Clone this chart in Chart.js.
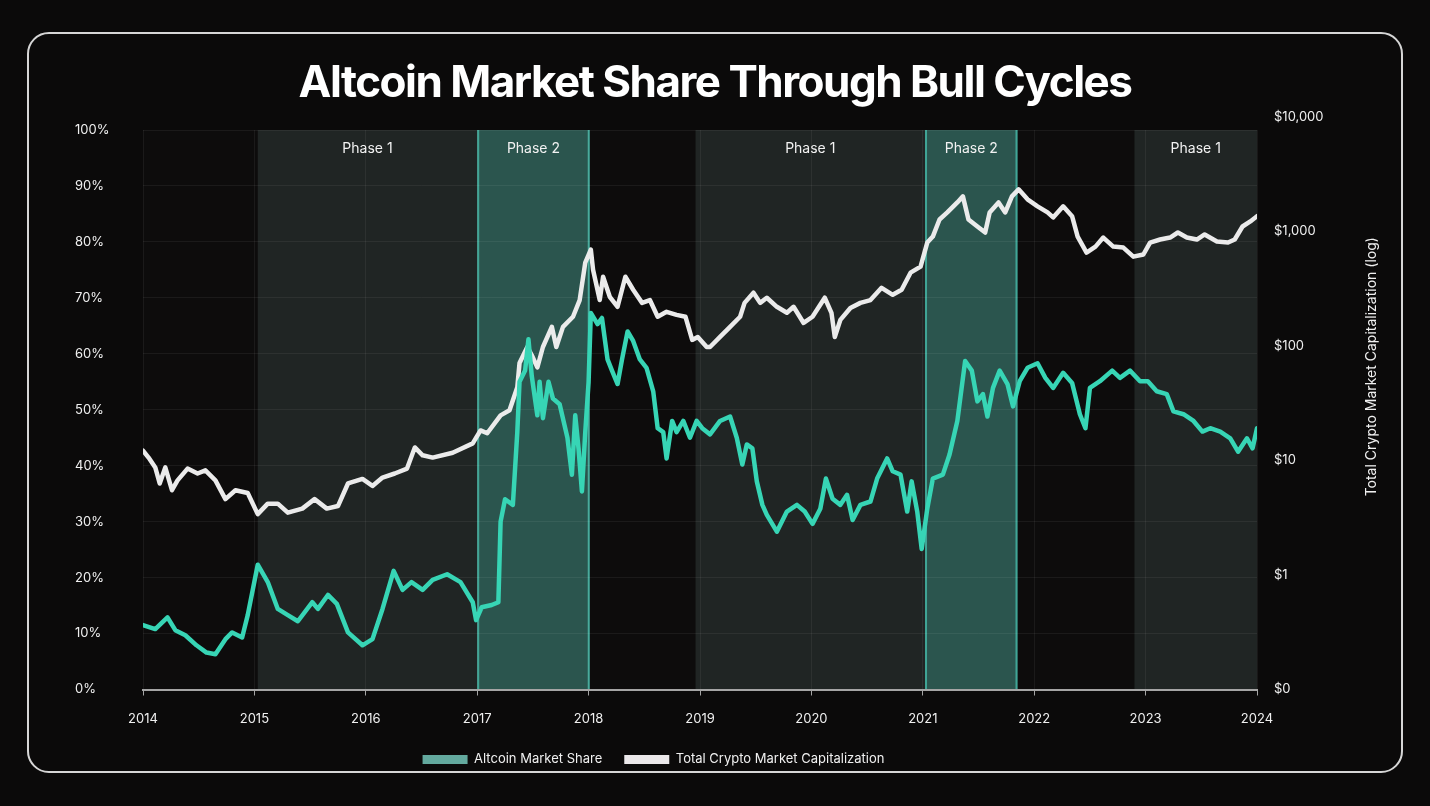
<!DOCTYPE html>
<html>
<head>
<meta charset="utf-8">
<script src="https://cdn.jsdelivr.net/npm/chart.js@4.4.1/dist/chart.umd.min.js"></script>
<style>
  html, body { margin: 0; padding: 0; background: #0b0a0a; }
  body { width: 1430px; height: 806px; position: relative; overflow: hidden; }
  .card { position: absolute; left: 27px; top: 32px; width: 1372px; height: 737px; border: 2px solid #d6d6d6; border-radius: 22px; }
  canvas { position: absolute; left: 0; top: 0; }
</style>
</head>
<body>
<div class="card"></div>
<canvas id="chart" width="1430" height="806"></canvas>
<script>
const chartTitle = "Altcoin Market Share Through Bull Cycles";
const capAxisTitle = "Total Crypto Market Capitalization (log)";

// altcoin share of total market cap, % (left axis)
const altYears = [
  2014.00, 2014.11, 2014.22, 2014.29, 2014.38, 2014.48, 2014.57, 2014.65, 2014.74, 2014.80,
  2014.89, 2014.94, 2015.03, 2015.12, 2015.21, 2015.30, 2015.39, 2015.52, 2015.57, 2015.66,
  2015.74, 2015.84, 2015.97, 2016.06, 2016.15, 2016.25, 2016.33, 2016.41, 2016.51, 2016.60,
  2016.73, 2016.85, 2016.96, 2016.99, 2017.04, 2017.13, 2017.19, 2017.21, 2017.25, 2017.32,
  2017.36, 2017.38, 2017.43, 2017.46, 2017.49, 2017.54, 2017.56, 2017.59, 2017.64, 2017.68,
  2017.74, 2017.81, 2017.85, 2017.88, 2017.91, 2017.94, 2017.97, 2018.00, 2018.02, 2018.08,
  2018.12, 2018.17, 2018.21, 2018.26, 2018.30, 2018.35, 2018.40, 2018.46, 2018.52, 2018.58,
  2018.62, 2018.67, 2018.70, 2018.75, 2018.79, 2018.85, 2018.91, 2018.97, 2019.02, 2019.09,
  2019.18, 2019.27, 2019.33, 2019.38, 2019.42, 2019.47, 2019.51, 2019.56, 2019.60, 2019.69,
  2019.78, 2019.87, 2019.94, 2020.01, 2020.08, 2020.13, 2020.19, 2020.26, 2020.32, 2020.37,
  2020.44, 2020.53, 2020.59, 2020.68, 2020.73, 2020.80, 2020.86, 2020.90, 2020.95, 2020.99,
  2021.04, 2021.09, 2021.18, 2021.24, 2021.31, 2021.38, 2021.44, 2021.49, 2021.54, 2021.58,
  2021.63, 2021.69, 2021.76, 2021.81, 2021.87, 2021.94, 2022.03, 2022.10, 2022.17, 2022.26,
  2022.34, 2022.41, 2022.46, 2022.50, 2022.59, 2022.70, 2022.77, 2022.86, 2022.95, 2023.02,
  2023.10, 2023.19, 2023.25, 2023.34, 2023.43, 2023.51, 2023.58, 2023.67, 2023.76, 2023.83,
  2023.91, 2023.96, 2024.00, 2024.03
];
const altShare = [
  11.5, 10.8, 12.9, 10.6, 9.7, 7.9, 6.6, 6.3, 9.0, 10.2,
  9.3, 13.3, 22.3, 19.2, 14.4, 13.3, 12.2, 15.6, 14.4, 16.9,
  15.3, 10.2, 7.9, 9.0, 14.4, 21.2, 17.8, 19.2, 17.8, 19.6,
  20.6, 19.2, 15.6, 12.4, 14.7, 15.1, 15.6, 30.0, 34.0, 33.0,
  46.0, 55.0, 57.0, 62.6, 56.0, 49.0, 55.0, 48.5, 55.0, 52.0,
  51.0, 45.0, 38.4, 49.0, 43.0, 35.4, 46.0, 55.0, 67.3, 65.3,
  66.4, 59.0, 57.0, 54.6, 59.0, 64.0, 62.3, 59.0, 57.5, 53.3,
  46.7, 46.0, 41.3, 48.0, 46.0, 48.0, 45.0, 48.0, 46.7, 45.6,
  48.0, 48.8, 45.0, 40.2, 43.8, 43.1, 37.2, 33.0, 31.2, 28.2,
  31.8, 33.0, 31.8, 29.6, 32.3, 37.7, 34.1, 33.0, 34.8, 30.3,
  33.0, 33.6, 37.7, 41.3, 39.0, 38.4, 31.8, 37.2, 31.8, 25.1,
  32.3, 37.7, 38.4, 42.0, 48.0, 58.7, 57.0, 51.5, 52.8, 48.8,
  53.9, 57.0, 54.6, 50.6, 55.1, 57.5, 58.3, 55.7, 53.9, 56.6,
  54.8, 49.2, 46.7, 53.9, 55.1, 57.0, 55.7, 57.0, 55.1, 55.1,
  53.3, 52.8, 49.7, 49.2, 48.0, 46.1, 46.7, 46.1, 44.9, 42.5,
  44.9, 43.1, 46.7, 43.1
];

// total crypto market cap, $B (right log axis)
const capYears = [
  2014.00, 2014.05, 2014.11, 2014.15, 2014.20, 2014.26, 2014.31, 2014.40, 2014.49, 2014.56,
  2014.65, 2014.74, 2014.83, 2014.94, 2015.03, 2015.12, 2015.21, 2015.30, 2015.43, 2015.54,
  2015.65, 2015.75, 2015.84, 2015.97, 2016.06, 2016.15, 2016.26, 2016.37, 2016.44, 2016.51,
  2016.60, 2016.78, 2016.96, 2017.03, 2017.09, 2017.21, 2017.29, 2017.36, 2017.38, 2017.45,
  2017.49, 2017.54, 2017.59, 2017.67, 2017.71, 2017.77, 2017.86, 2017.92, 2017.97, 2018.02,
  2018.04, 2018.10, 2018.13, 2018.19, 2018.26, 2018.33, 2018.40, 2018.48, 2018.55, 2018.62,
  2018.70, 2018.79, 2018.87, 2018.93, 2018.98, 2019.06, 2019.09, 2019.18, 2019.27, 2019.36,
  2019.40, 2019.48, 2019.54, 2019.60, 2019.69, 2019.78, 2019.84, 2019.93, 2020.01, 2020.12,
  2020.18, 2020.21, 2020.26, 2020.35, 2020.44, 2020.53, 2020.63, 2020.73, 2020.81, 2020.89,
  2020.98, 2021.04, 2021.09, 2021.15, 2021.22, 2021.31, 2021.36, 2021.41, 2021.49, 2021.56,
  2021.60, 2021.68, 2021.74, 2021.80, 2021.86, 2021.94, 2022.03, 2022.12, 2022.17, 2022.26,
  2022.34, 2022.39, 2022.47, 2022.55, 2022.62, 2022.71, 2022.80, 2022.89, 2022.98, 2023.04,
  2023.13, 2023.22, 2023.29, 2023.37, 2023.46, 2023.53, 2023.64, 2023.74, 2023.80, 2023.87,
  2023.94, 2024.00, 2024.03
];
const capValue = [
  12.2, 10.6, 8.7, 6.3, 8.7, 5.5, 6.7, 8.5, 7.7, 8.2,
  6.7, 4.6, 5.5, 5.2, 3.4, 4.2, 4.2, 3.5, 3.8, 4.6,
  3.8, 4.0, 6.3, 6.9, 6.0, 7.1, 7.7, 8.5, 13.0, 11.1,
  10.6, 11.7, 14.1, 18.3, 17.3, 24.8, 27.5, 43.7, 71, 98,
  83, 65, 98, 147, 98, 147, 180, 252, 535, 695,
  464, 252, 403, 269, 220, 403, 310, 238, 252, 180,
  199, 187, 180, 113, 120, 98, 98, 120, 147, 180,
  238, 292, 238, 264, 220, 195, 220, 159, 180, 264,
  195, 120, 169, 215, 238, 252, 322, 280, 310, 437,
  493, 801, 903, 1274, 1468, 1795, 2027, 1274, 1106, 980,
  1468, 1795, 1468, 2027, 2335, 1910, 1660, 1468, 1327, 1660,
  1360, 903, 654, 738, 885, 738, 724, 603, 630, 801,
  851, 885, 980, 885, 851, 942, 818, 801, 851, 1106,
  1225, 1360, 1250
];
const capTicks = [0.1, 1, 10, 100, 1000, 10000];

// shaded cycle phases
const phaseStart = [2015.03, 2017.00, 2018.96, 2021.02, 2022.90];
const phaseEnd   = [2017.00, 2018.01, 2021.02, 2021.85, 2024.00];
const phaseLabel = ["Phase 1", "Phase 2", "Phase 1", "Phase 2", "Phase 1"];

const TEXT = "#f0f0f0";
const tickFont = { family: "Inter, sans-serif", size: 13 };
const legendSwatch = ["#63a99e", "#ebe8ea"];

const phaseBands = {
  id: "phaseBands",
  beforeDraw(chart) {
    const { ctx, chartArea: a, scales: { x } } = chart;
    ctx.save();
    ctx.fillStyle = "#0d0c0c";
    ctx.fillRect(a.left, a.top, a.width, a.height);
    phaseStart.forEach((s, i) => {
      const x0 = x.getPixelForValue(s);
      const x1 = x.getPixelForValue(phaseEnd[i]);
      const two = phaseLabel[i] === "Phase 2";
      ctx.fillStyle = two ? "#2b554e" : "#202524";
      ctx.fillRect(x0, a.top, x1 - x0, a.height);
      if (two) {
        ctx.strokeStyle = "#40a596";
        ctx.lineWidth = 2;
        ctx.beginPath();
        ctx.moveTo(x0 + 1, a.top); ctx.lineTo(x0 + 1, a.bottom);
        ctx.moveTo(x1 - 1, a.top); ctx.lineTo(x1 - 1, a.bottom);
        ctx.stroke();
      }
      ctx.fillStyle = "#f2f2f2";
      ctx.font = "14px Inter, sans-serif";
      ctx.textAlign = "center";
      ctx.textBaseline = "middle";
      ctx.fillText(phaseLabel[i], (x0 + x1) / 2, a.top + 19);
    });
    ctx.restore();
  },
  afterLayout(chart) {
    // legend sits left of centre in the original
    chart.legend.left -= 74;
    chart.legend.right -= 74;
  },
  afterDraw(chart) {
    const { ctx, chartArea: a } = chart;
    ctx.save();
    ctx.fillStyle = "#ffffff";
    ctx.font = "700 44px Inter, sans-serif";
    ctx.letterSpacing = "-1.5px";
    ctx.textAlign = "center";
    ctx.textBaseline = "middle";
    ctx.fillText(chartTitle, chart.width / 2, 84);
    ctx.letterSpacing = "0px";
    // right axis title reads bottom-to-top
    ctx.font = "14px Inter, sans-serif";
    ctx.fillStyle = TEXT;
    ctx.translate(a.right + 115, (a.top + a.bottom) / 2 - 43);
    ctx.rotate(-Math.PI / 2);
    ctx.fillText(capAxisTitle, 0, 0);
    ctx.restore();
  },
};

new Chart(document.getElementById("chart"), {
  type: "line",
  data: {
    datasets: [
      {
        label: "Altcoin Market Share",
        data: altYears.map((x, i) => ({ x, y: altShare[i] })),
        yAxisID: "yShare",
        borderColor: "#37d5b5",
        borderWidth: 4.5,
        pointRadius: 0,
        tension: 0,
        borderJoinStyle: "round",
        borderCapStyle: "round",
      },
      {
        label: "Total Crypto Market Capitalization",
        data: capYears.map((x, i) => ({ x, y: capValue[i] })),
        yAxisID: "yCap",
        borderColor: "#ebebeb",
        borderWidth: 4.5,
        pointRadius: 0,
        tension: 0,
        borderJoinStyle: "round",
        borderCapStyle: "round",
      },
    ],
  },
  options: {
    responsive: false,
    animation: false,
    devicePixelRatio: 1,
    layout: { padding: { top: 130, left: 75, right: 50, bottom: 30 } },
    plugins: {
      title: { display: false },
      tooltip: { enabled: false },
      legend: {
        position: "bottom",
        labels: {
          color: TEXT,
          font: { family: "Inter, sans-serif", size: 13 },
          boxWidth: 45,
          boxHeight: 9,
          padding: 22,
          generateLabels: (chart) =>
            Chart.defaults.plugins.legend.labels.generateLabels(chart).map((l, i) => ({
              ...l, fillStyle: legendSwatch[i], strokeStyle: legendSwatch[i], lineWidth: 0,
            })),
        },
      },
    },
    scales: {
      x: {
        type: "linear",
        min: 2014,
        max: 2024,
        ticks: { stepSize: 1, callback: (v) => String(v), color: TEXT, font: tickFont, padding: 16 },
        grid: { color: "rgba(255,255,255,0.06)", tickColor: "#a5a5a5", tickLength: 6 },
        border: { color: "#a5a5a5", width: 2 },
        afterFit: (s) => { s.height = 41.5; },
      },
      yShare: {
        position: "left",
        min: 0,
        max: 100,
        ticks: { stepSize: 10, callback: (v) => v + "%", crossAlign: "far", color: TEXT, font: tickFont, padding: 0 },
        grid: { color: "rgba(255,255,255,0.06)", drawTicks: false },
        border: { display: false },
        afterFit: (s) => { s.width = 68; },
      },
      yCap: {
        type: "logarithmic",
        position: "right",
        min: 0.1,
        max: 7700,
        afterBuildTicks: (s) => { s.ticks = capTicks.map((v) => ({ value: v })); },
        ticks: {
          autoSkip: false,
          callback: (v) => (v < 1 ? "$0" : "$" + v.toLocaleString("en-US")),
          color: TEXT,
          font: tickFont,
          padding: 17,
        },
        grid: { display: false, drawTicks: false },
        border: { display: false },
        afterFit: (s) => { s.width = 123; },
      },
    },
  },
  plugins: [phaseBands],
});
</script>
</body>
</html>
